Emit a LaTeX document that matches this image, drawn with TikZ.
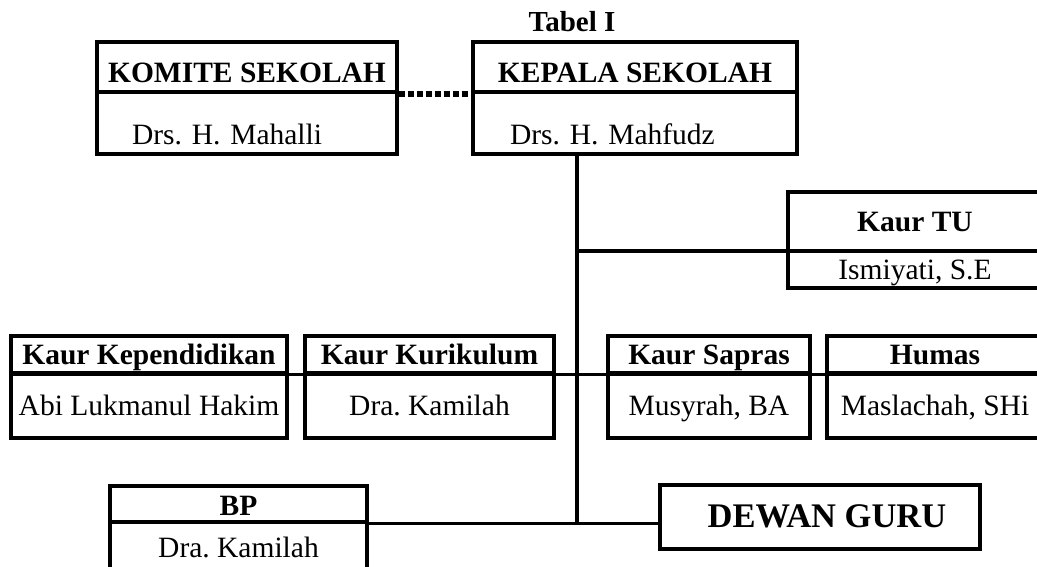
\documentclass[tikz,border=0pt]{standalone}
\usepackage{fontspec}
\setmainfont{Liberation Serif}
\usetikzlibrary{positioning}
\frenchspacing

\tikzset{
  kotak/.style={draw, line width=3.4pt, inner sep=0pt, text height=20pt, text depth=0pt,
    font=\fontsize{29.5}{34}\selectfont},
  kepala/.style={kotak, font=\fontsize{29.5}{34}\selectfont\bfseries},
  garis/.style={line width=3.2pt},
}

\begin{document}
\begin{tikzpicture}[x=1pt,y=-1pt]
            \clip (0,0) rectangle (1037,567);
            % Judul
            \node[anchor=base, font=\fontsize{29}{34}\selectfont\bfseries] (tabel) at (572,32) {Tabel I};

            % Komite dan Kepala Sekolah
            \node[kepala, minimum width=300pt, minimum height=50pt, text height=32pt] (komH) at (247,67) {KOMITE SEKOLAH};
            \node[kotak, minimum width=300pt, minimum height=62pt, text height=44pt, text width=230pt, align=left] (komB) at (247,123) {Drs. H. Mahalli};
            \node[kepala, minimum width=324pt, minimum height=50pt, text height=32pt] (kepH) at (635,67) {KEPALA SEKOLAH};
            \node[kotak, minimum width=324pt, minimum height=62pt, text height=44pt, text width=250pt, align=left] (kepB) at (635,123) {Drs. H. Mahfudz};

            % Kaur TU
            \node[kepala, minimum width=254pt, minimum height=59pt] (tuH) at (915,221.5) {Kaur TU};
            \node[kotak, minimum width=254pt, minimum height=37pt, text height=19pt] (tuB) at (915,269.5) {Ismiyati, S.E};

            % Baris Kaur
            \node[kepala, minimum width=276pt, minimum height=37pt] (kepdH) at (149,354.5) {Kaur Kependidikan};
            \node[kotak, minimum width=276pt, minimum height=65pt] (kepdB) at (149,405.5) {Abi Lukmanul Hakim};
            \node[kepala, minimum width=249pt, minimum height=37pt] (kurH) at (429.5,354.5) {Kaur Kurikulum};
            \node[kotak, minimum width=249pt, minimum height=65pt] (kurB) at (429.5,405.5) {Dra. Kamilah};
            \node[kepala, minimum width=202pt, minimum height=37pt] (sarH) at (709,354.5) {Kaur Sapras};
            \node[kotak, minimum width=202pt, minimum height=65pt] (sarB) at (709,405.5) {Musyrah, BA};
            \node[kepala, minimum width=216pt, minimum height=37pt] (humH) at (935,354.5) {Humas};
            \node[kotak, minimum width=216pt, minimum height=65pt] (humB) at (935,405.5) {Maslachah, SHi};

            % BP dan Dewan Guru
            \node[kepala, minimum width=257pt, minimum height=36pt, text height=22pt] (bpH) at (238.5,504) {BP};
            \node[kotak, minimum width=257pt, minimum height=50pt] (bpB) at (238.5,547) {Dra. Kamilah};
            \node[kepala, minimum width=320pt, minimum height=64pt, font=\fontsize{34.5}{40}\selectfont\bfseries] (dewan) at (820,517) {\hspace*{14pt}DEWAN GURU};

            % Garis
            \coordinate (cab) at (577,251);
            \draw[line width=6pt, dash pattern=on 6pt off 3pt] (komH.south east) -- (kepH.south west);
            \draw[garis] (kepB.south -| cab) -- (bpH.south east -| cab);
            \draw[garis] (cab) -- (cab -| tuH.west);
            \draw[garis] (kepdH.south west) -- (humH.south east);
            \draw[garis] (bpH.south east) -- (bpH.south east -| dewan.west);

\end{tikzpicture}
\end{document}
